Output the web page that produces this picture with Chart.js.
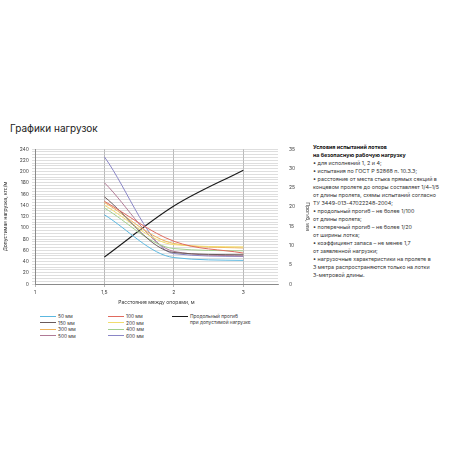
<!DOCTYPE html>
<html>
<head>
<meta charset="utf-8">
<script src="https://cdn.jsdelivr.net/npm/chart.js@4/dist/chart.umd.min.js"></script>
<style>
  body { margin: 0; width: 458px; height: 458px; background: #fff; font-family: Inter, "Open Sans", sans-serif; color: #222; position: relative; overflow: hidden; }
  #title { position: absolute; left: 10px; top: 122px; font-size: 10px; color: #222; }
  #wrap { position: absolute; left: 0; top: 140px; width: 310px; height: 165px; }
  #legend { position: absolute; left: 40px; top: 313px; font-size: 4.8px; color: #333; }
  #legend .item { position: absolute; white-space: nowrap; display: flex; align-items: center; }
  #legend .sw { display: inline-block; width: 16px; height: 1px; margin-right: 2px; }
  #notes { position: absolute; left: 313px; top: 143px; width: 145px; font-size: 5.4px; line-height: 8px; color: #333; }
  #notes b { color: #111; }
</style>
</head>
<body>
<div id="title">Графики нагрузок</div>
<div id="wrap"><canvas id="loadChart"></canvas></div>
<div id="legend"></div>
<div id="notes">
  <b>Условия испытаний лотков<br>на безопасную рабочую нагрузку</b><br>
  • для исполнений 1, 2 и 4;<br>
  • испытания по ГОСТ Р 52868 п. 10.3.3;<br>
  • расстояние от места стыка прямых секций в<br>концевом пролете до опоры составляет 1/4–1/5<br>от длины пролета, схемы испытаний согласно<br>ТУ 3449-013-47022248-2004;<br>
  • продольный прогиб – не более 1/100<br>от длины пролета;<br>
  • поперечный прогиб – не более 1/20<br>от ширины лотка;<br>
  • коэффициент запаса – не менее 1,7<br>от заявленной нагрузки;<br>
  • нагрузочные характеристики на пролете в<br>3 метра распространяются только на лотки<br>3-метровой длины.
</div>
<script>
// x positions (index on axis) and tick labels
const spanLabels = ['1', '1,5', '2', '3'];
const spanIdx = [1, 2, 3]; // 1,5 / 2 / 3 m

const widthNames = ['50 мм', '100 мм', '150 мм', '200 мм', '300 мм', '400 мм', '500 мм', '600 мм'];
const widthColors = ['#5cb8e0', '#e06a5e', '#6a5a5a', '#f2dc6e', '#f0b45a', '#a3cf8e', '#b07a96', '#8a86c6'];

// allowed load, kgf/m
const load50 = [123, 47, 42];
const load100 = [147, 76, 55];
const load150 = [155, 56, 52];
const load200 = [140, 70, 66];
const load300 = [145, 72, 64];
const load400 = [135, 63, 59];
const load500 = [180, 58, 50];
const load600 = [226, 54, 49];

// longitudinal deflection, mm
const deflection = [7, 20.2, 29.5];
const deflectionName = 'Продольный прогиб при допустимой нагрузке';

const loads = [load50, load100, load150, load200, load300, load400, load500, load600];

const datasets = loads.map(function(vals, i) {
    return {
        label: widthNames[i],
        data: vals.map(function(v, j) { return { x: spanIdx[j], y: v }; }),
        borderColor: widthColors[i],
        borderWidth: 1,
        pointRadius: 0,
        cubicInterpolationMode: 'monotone',
        yAxisID: 'y'
    };
});
datasets.push({
    label: deflectionName,
    data: deflection.map(function(v, j) { return { x: spanIdx[j], y: v }; }),
    borderColor: '#1a1a1a',
    borderWidth: 1.1,
    pointRadius: 0,
    cubicInterpolationMode: 'monotone',
    yAxisID: 'y1'
});

const tickFont = { family: 'Inter, "Open Sans", sans-serif', size: 5 };

new Chart(document.getElementById('loadChart').getContext('2d'), {
    type: 'line',
    data: { datasets: datasets },
    options: {
        responsive: true,
        maintainAspectRatio: false,
        animation: false,
        layout: { padding: { top: 9, right: 0, left: 0, bottom: 0 } },
        plugins: { legend: { display: false }, tooltip: { enabled: false } },
        scales: {
            x: {
                type: 'linear',
                min: 0,
                max: 3.5,
                afterBuildTicks: function(s) { s.ticks = [0, 1, 2, 3].map(function(v) { return { value: v }; }); },
                afterFit: function(s) { s.height = 21; },
                ticks: {
                    color: '#444',
                    font: tickFont,
                    padding: 2,
                    callback: function(v) { return spanLabels[v]; }
                },
                grid: { color: '#8a8a8a', lineWidth: 0.6, drawTicks: true, tickLength: 3 },
                border: { color: '#8a8a8a' },
                title: { display: true, text: 'Расстояние между опорами, м', color: '#333', font: tickFont, padding: 0 }
            },
            y: {
                position: 'left',
                min: 0,
                max: 240,
                afterFit: function(s) { s.width = 35; },
                ticks: {
                    stepSize: 5,
                    color: '#444',
                    font: tickFont,
                    autoSkip: false,
                    padding: 3,
                    callback: function(v) { return v % 20 === 0 ? v : ''; }
                },
                grid: { color: '#c8c8c8', lineWidth: 0.6, tickLength: 3 },
                border: { color: '#8a8a8a' },
                title: { display: true, text: 'Допустимая нагрузка, кгс/м', color: '#333', font: tickFont, padding: 2 }
            },
            y1: {
                position: 'right',
                min: 0,
                max: 35,
                afterFit: function(s) { s.width = 32; },
                ticks: { stepSize: 5, color: '#444', font: tickFont, padding: 3 },
                grid: { display: false },
                border: { display: false },
                title: { display: true, text: 'Прогиб, мм', color: '#333', font: tickFont, padding: 0 }
            }
        }
    }
});

// legend in three columns like the original
const legend = document.getElementById('legend');
const legendPos = [[0, 0], [68, 0], [0, 6.5], [68, 6.5], [0, 13], [68, 13], [0, 19.5], [68, 19.5]];
widthNames.forEach(function(name, i) {
    const el = document.createElement('div');
    el.className = 'item';
    el.style.left = legendPos[i][0] + 'px';
    el.style.top = legendPos[i][1] + 'px';
    el.innerHTML = '<span class="sw" style="background:' + widthColors[i] + '"></span>' + name;
    legend.appendChild(el);
});
const dEl = document.createElement('div');
dEl.className = 'item';
dEl.style.left = '132px';
dEl.style.top = '0px';
dEl.style.alignItems = 'flex-start';
dEl.innerHTML = '<span class="sw" style="background:#1a1a1a;height:1.4px;margin-top:2.5px"></span><span>Продольный прогиб<br>при допустимой нагрузке</span>';
legend.appendChild(dEl);
</script>
</body>
</html>
